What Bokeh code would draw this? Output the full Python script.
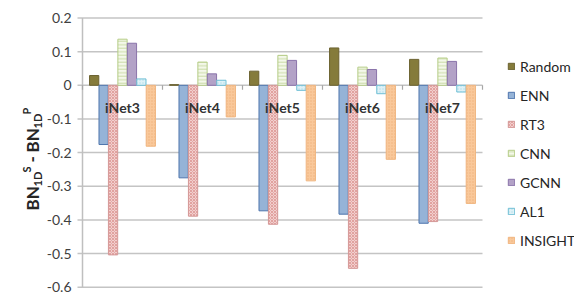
import numpy as np
from bokeh.plotting import figure
from bokeh.models import Range1d, ColumnDataSource, Legend, LegendItem, Label
from bokeh.core.properties import value
from bokeh.embed import file_html
from bokeh.resources import INLINE

# ---------------- data ----------------
categories = ["iNet3", "iNet4", "iNet5", "iNet6", "iNet7"]
series_names = ["Random", "ENN", "RT3", "CNN", "GCNN", "AL1", "INSIGHT"]
random_vals = [0.029, 0.002, 0.042, 0.111, 0.077]
enn_vals = [-0.176, -0.275, -0.373, -0.383, -0.410]
rt3_vals = [-0.504, -0.389, -0.413, -0.544, -0.405]
cnn_vals = [0.137, 0.069, 0.089, 0.054, 0.081]
gcnn_vals = [0.125, 0.034, 0.074, 0.047, 0.071]
al1_vals = [0.019, 0.015, -0.015, -0.025, -0.020]
insight_vals = [-0.181, -0.094, -0.284, -0.220, -0.351]
y_ticks = [0.2, 0.1, 0.0, -0.1, -0.2, -0.3, -0.4, -0.5, -0.6]
y_tick_labels = ["0.2", "0.1", "0", "-0.1", "-0.2", "-0.3", "-0.4", "-0.5", "-0.6"]

all_vals = [random_vals, enn_vals, rt3_vals, cnn_vals, gcnn_vals, al1_vals, insight_vals]

# ---------------- styles ----------------
styles = [
    dict(fill_color="#857b3b", line_color="#6b6230"),
    dict(fill_color="#95b3d7", line_color="#4f75ad"),
    dict(fill_color="#f2cfce", line_color="#d49897", hatch_pattern="diagonal_cross",
         hatch_color="#c0504d", hatch_alpha=0.45, hatch_scale=3, hatch_weight=0.8),
    dict(fill_color="#f4f8ea", line_color="#b5cc86", hatch_pattern="horizontal_line",
         hatch_color="#b9d08a", hatch_alpha=0.9, hatch_scale=3.5, hatch_weight=0.8),
    dict(fill_color="#b3a2c7", line_color="#8a74aa"),
    dict(fill_color="#def1f6", line_color="#6fbfd5", hatch_pattern="dot",
         hatch_color="#9fd5e3", hatch_alpha=0.7, hatch_scale=3, hatch_weight=0.8),
    dict(fill_color="#f9c89a", line_color="#f0b680", hatch_pattern="dot",
         hatch_color="#e7a066", hatch_alpha=0.6, hatch_scale=3, hatch_weight=0.8),
]

FONT = "Lato"
W, H = 574, 294
n_cat = len(categories)
n_ser = len(series_names)
bar_w = 0.118

# plot area: category axis spans pixels 82..482, value axis 0.2 at 17.5px, -0.6 at 286.7px
px_per_cat = 400 / n_cat
x_start = -82 / px_per_cat
x_end = (W - 82) / px_per_cat
px_per_unit = (286.7 - 17.5) / 0.8
y_end = 0.2 + 17.5 / px_per_unit
y_start = -0.6 - (H - 286.7) / px_per_unit

p = figure(width=W, height=H, output_backend="svg", toolbar_location=None,
           x_range=Range1d(x_start, x_end), y_range=Range1d(y_start, y_end),
           x_axis_location=None, y_axis_location=None,
           min_border_left=0, min_border_right=0, min_border_top=0, min_border_bottom=0)
p.outline_line_color = None
p.xgrid.grid_line_color = None
p.ygrid.grid_line_color = None

tick_len = 5 / px_per_cat
ny = len(y_ticks)

# horizontal gridlines (with the little outward tick on the left)
p.segment(x0=[-tick_len] * ny, x1=[n_cat] * ny, y0=y_ticks, y1=y_ticks,
          line_color="#c4c4c4", line_width=1.5)
# vertical value axis line
p.segment(x0=[0], x1=[0], y0=[min(y_ticks)], y1=[max(y_ticks)],
          line_color="#bfbfbf", line_width=1.5)
# value tick labels
p.text(x=[0] * ny, y=y_ticks, text=y_tick_labels, x_offset=-11,
       text_align="right", text_baseline="middle", text_font=value(FONT),
       text_font_size="14px", text_color="#404040")

# bars
items = []
centers = np.arange(n_cat) + 0.5
for j, (name, vals, st) in enumerate(zip(series_names, all_vals, styles)):
    xs = centers + (j - (n_ser - 1) / 2) * bar_w
    src = ColumnDataSource(dict(x=xs, top=vals, bottom=[0] * n_cat))
    r = p.vbar(x="x", top="top", bottom="bottom", width=bar_w * 0.98, source=src,
               line_width=1, **st)
    items.append(LegendItem(label=name, renderers=[r]))

# category boundary ticks on zero line
bounds = np.arange(n_cat + 1)
p.segment(x0=bounds, x1=bounds, y0=[0] * (n_cat + 1), y1=[-0.013] * (n_cat + 1),
          line_color="#a6a6a6", line_width=1.2)

# category labels just below zero
lab_src = ColumnDataSource(dict(x=centers, y=[0] * n_cat, t=categories))
p.text(x="x", y="y", text="t", source=lab_src, text_align="center",
       text_baseline="top", y_offset=14, text_font=value(FONT),
       text_font_size="14px", text_font_style="bold", text_color="#333333")

# legend
legend = Legend(items=items, location=(507, 44), orientation="vertical",
                glyph_width=8, glyph_height=8, label_height=20, spacing=9,
                padding=0, margin=0, label_standoff=5,
                label_text_font=FONT, label_text_font_size="14px",
                label_text_color="#262626", border_line_color=None,
                background_fill_alpha=0)
p.add_layout(legend, "center")

# y-axis title composed of pieces (rotated)
title_text = ["BN", "1D", "S", "-", "BN", "1D", "P"]
title_size = ["17px", "11px", "11px", "17px", "17px", "11px", "11px"]
title_dx = [0, 5, -6, -1, 0, 5, -6]
title_sy = [210, 186, 172, 162, 152, 128, 114]
main_x = 32
for txt, fs, dx, sy in zip(title_text, title_size, title_dx, title_sy):
    p.add_layout(Label(x=main_x + dx, y=H - sy, x_units="screen", y_units="screen",
                       text=txt, angle=np.pi / 2, text_align="left",
                       text_baseline="middle", text_font=FONT, text_font_size=fs,
                       text_font_style="bold", text_color="#262626"))

open("out.html", "w").write(file_html(p, INLINE))
